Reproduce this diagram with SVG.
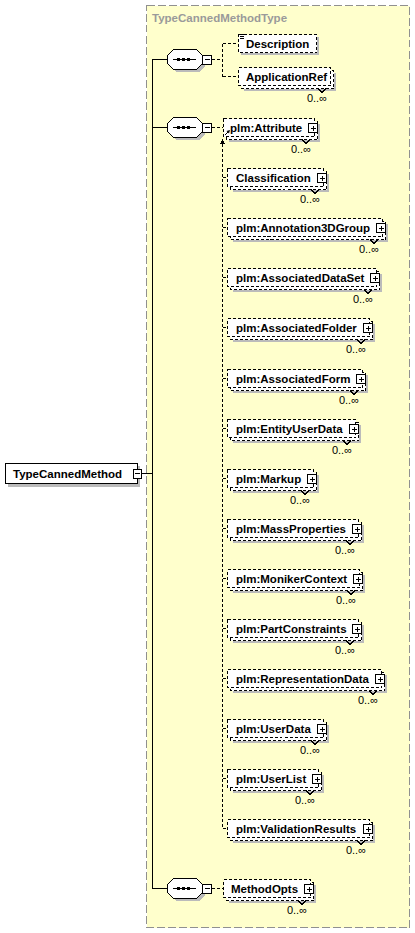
<svg xmlns="http://www.w3.org/2000/svg" width="415" height="933" viewBox="0 0 415 933" shape-rendering="crispEdges">
<style>
.lbl{font-family:"Liberation Sans",Arial,sans-serif;font-size:11.5px;font-weight:bold;fill:#000}
.occ{font-family:"Liberation Sans",Arial,sans-serif;font-size:11px;fill:#000}
.title{font-family:"Liberation Sans",Arial,sans-serif;font-size:11.5px;font-weight:bold;fill:#9a9a9a}
.fr{fill:#fff;stroke:#000;stroke-dasharray:3 2}
.box{fill:#fff;stroke:#000}
.sh{fill:#bbb;stroke:none}
.btn{fill:#fff;stroke:#000}
.sol{fill:none;stroke:#000}
.dsh{fill:none;stroke:#000;stroke-dasharray:3 2}
.bg{fill:#ffffcc;stroke:#909090;stroke-dasharray:8 3}
</style>
<defs>
<g id="oct">
<polygon class="sh" points="9,-7 32,-7 38,-1 38,7 32,13 9,13 3,7 3,-1"/>
<polygon class="box" points="6.5,-9.5 29.5,-9.5 35.5,-3.5 35.5,4.5 29.5,10.5 6.5,10.5 0.5,4.5 0.5,-3.5"/>
<path class="sol" d="M6 0.5 H29"/>
<rect x="10" y="-1" width="3" height="3" fill="#000"/>
<rect x="15" y="-1" width="3" height="3" fill="#000"/>
<rect x="20" y="-1" width="3" height="3" fill="#000"/>
<rect class="btn" x="35.5" y="-4" width="9" height="9"/>
<path class="sol" d="M37.5 0.5 H43"/>
</g>
</defs>

<rect id="container" class="bg" x="146.5" y="5.5" width="263" height="922"/>
<text class="title" x="152" y="22">TypeCannedMethodType</text>

<g id="connectors">
<path class="sol" d="M141 473.5 H152.5 M152.5 59.5 V888.5 M152 59.5 H167 M152 127.5 H167 M152 888.5 H167"/>
<path class="dsh" d="M212 59.5 H222.5 M222.5 43.5 V76.5 M222.5 43.5 H238 M222.5 76.5 H238"/>
<path class="dsh" d="M212 127.5 H223 M222.5 144 V828.5 M222.5 177.5 H227 M222.5 227.5 H227 M222.5 277.5 H227 M222.5 327.5 H227 M222.5 378.5 H227 M222.5 428.5 H227 M222.5 478.5 H227 M222.5 528.5 H227 M222.5 578.5 H227 M222.5 628.5 H227 M222.5 678.5 H227 M222.5 728.5 H227 M222.5 778.5 H227 M222.5 828.5 H227"/>
<polygon points="222.5,139 220,144 225,144" fill="#000"/>
<path class="dsh" d="M212 888.5 H223"/>
</g>

<g id="root">
<rect class="sh" x="8" y="466" width="132" height="21"/>
<rect class="box" x="5.5" y="463.5" width="132" height="20"/>
<text class="lbl" x="13" y="477.5">TypeCannedMethod</text>
<rect class="btn" x="133.5" y="469" width="8" height="9"/>
<path class="sol" d="M135 473.5 H140"/>
</g>

<g id="seq1" transform="translate(167,59)"><use href="#oct"/></g>
<g id="seq2" transform="translate(167,127)"><use href="#oct"/></g>
<g id="seq3" transform="translate(167,888)"><use href="#oct"/></g>

<g id="e-description" transform="translate(238,43)">
<rect class="sh" x="3" y="-6" width="78" height="18"/>
<rect class="fr" x="0.5" y="-8.5" width="78" height="18"/>
<path class="sol" d="M1.5 -8.5 H6 M1.5 -6.5 H6 M1.5 -4.5 H6"/>
<text class="lbl" x="8" y="4.5">Description</text>
</g>

<g id="e-applicationref" transform="translate(238,76)">
<rect class="sh" x="6" y="-3" width="92" height="18"/>
<rect class="fr" x="3.5" y="-5.5" width="92" height="18"/>
<rect class="fr" x="0.5" y="-8.5" width="92" height="18"/>
<text class="lbl" x="8" y="4.5">ApplicationRef</text>
<polyline class="sol" points="80,12.5 84,16.5 88,12.5"/>
<text class="occ" x="89" y="26" text-anchor="end">0..∞</text>
</g>

<g id="e-attribute" transform="translate(223,127)">
<rect class="sh" x="6" y="-3" width="91" height="18"/>
<rect class="fr" x="3.5" y="-5.5" width="91" height="18"/>
<rect class="fr" x="0.5" y="-8.5" width="91" height="18"/>
<path class="sol" d="M2 8 L6 4" shape-rendering="auto"/>
<polygon points="7,3 3.5,4 6,6.5" fill="#000" shape-rendering="auto"/>
<text class="lbl" x="7" y="4.5">plm:Attribute</text>
<rect class="btn" x="85.5" y="-3.5" width="9" height="9"/>
<path class="sol" d="M87.5 1 H93 M90 -1.5 V4"/>
<polyline class="sol" points="79,12.5 83,16.5 87,12.5"/>
<text class="occ" x="88" y="26" text-anchor="end">0..∞</text>
</g>

<g id="e-classification" transform="translate(227,177)">
<rect class="sh" x="6" y="-3" width="96" height="18"/>
<rect class="fr" x="3.5" y="-5.5" width="96" height="18"/>
<rect class="fr" x="0.5" y="-8.5" width="96" height="18"/>
<text class="lbl" x="9" y="4.5">Classification</text>
<rect class="btn" x="90.5" y="-3.5" width="9" height="9"/>
<path class="sol" d="M92.5 1 H98 M95 -1.5 V4"/>
<polyline class="sol" points="84,12.5 88,16.5 92,12.5"/>
<text class="occ" x="93" y="26" text-anchor="end">0..∞</text>
</g>

<g id="e-annotation3dgroup" transform="translate(227,227)">
<rect class="sh" x="6" y="-3" width="155" height="18"/>
<rect class="fr" x="3.5" y="-5.5" width="155" height="18"/>
<rect class="fr" x="0.5" y="-8.5" width="155" height="18"/>
<text class="lbl" x="9" y="4.5">plm:Annotation3DGroup</text>
<rect class="btn" x="149.5" y="-3.5" width="9" height="9"/>
<path class="sol" d="M151.5 1 H157 M154 -1.5 V4"/>
<polyline class="sol" points="143,12.5 147,16.5 151,12.5"/>
<text class="occ" x="152" y="26" text-anchor="end">0..∞</text>
</g>

<g id="e-associateddataset" transform="translate(227,277)">
<rect class="sh" x="6" y="-3" width="149" height="18"/>
<rect class="fr" x="3.5" y="-5.5" width="149" height="18"/>
<rect class="fr" x="0.5" y="-8.5" width="149" height="18"/>
<text class="lbl" x="9" y="4.5">plm:AssociatedDataSet</text>
<rect class="btn" x="143.5" y="-3.5" width="9" height="9"/>
<path class="sol" d="M145.5 1 H151 M148 -1.5 V4"/>
<polyline class="sol" points="137,12.5 141,16.5 145,12.5"/>
<text class="occ" x="146" y="26" text-anchor="end">0..∞</text>
</g>

<g id="e-associatedfolder" transform="translate(227,327)">
<rect class="sh" x="6" y="-3" width="142" height="18"/>
<rect class="fr" x="3.5" y="-5.5" width="142" height="18"/>
<rect class="fr" x="0.5" y="-8.5" width="142" height="18"/>
<text class="lbl" x="9" y="4.5">plm:AssociatedFolder</text>
<rect class="btn" x="136.5" y="-3.5" width="9" height="9"/>
<path class="sol" d="M138.5 1 H144 M141 -1.5 V4"/>
<polyline class="sol" points="130,12.5 134,16.5 138,12.5"/>
<text class="occ" x="139" y="26" text-anchor="end">0..∞</text>
</g>

<g id="e-associatedform" transform="translate(227,378)">
<rect class="sh" x="6" y="-3" width="135" height="18"/>
<rect class="fr" x="3.5" y="-5.5" width="135" height="18"/>
<rect class="fr" x="0.5" y="-8.5" width="135" height="18"/>
<text class="lbl" x="9" y="4.5">plm:AssociatedForm</text>
<rect class="btn" x="129.5" y="-3.5" width="9" height="9"/>
<path class="sol" d="M131.5 1 H137 M134 -1.5 V4"/>
<polyline class="sol" points="123,12.5 127,16.5 131,12.5"/>
<text class="occ" x="132" y="26" text-anchor="end">0..∞</text>
</g>

<g id="e-entityuserdata" transform="translate(227,428)">
<rect class="sh" x="6" y="-3" width="128" height="18"/>
<rect class="fr" x="3.5" y="-5.5" width="128" height="18"/>
<rect class="fr" x="0.5" y="-8.5" width="128" height="18"/>
<text class="lbl" x="9" y="4.5">plm:EntityUserData</text>
<rect class="btn" x="122.5" y="-3.5" width="9" height="9"/>
<path class="sol" d="M124.5 1 H130 M127 -1.5 V4"/>
<polyline class="sol" points="116,12.5 120,16.5 124,12.5"/>
<text class="occ" x="125" y="26" text-anchor="end">0..∞</text>
</g>

<g id="e-markup" transform="translate(227,478)">
<rect class="sh" x="6" y="-3" width="86" height="18"/>
<rect class="fr" x="3.5" y="-5.5" width="86" height="18"/>
<rect class="fr" x="0.5" y="-8.5" width="86" height="18"/>
<text class="lbl" x="9" y="4.5">plm:Markup</text>
<rect class="btn" x="80.5" y="-3.5" width="9" height="9"/>
<path class="sol" d="M82.5 1 H88 M85 -1.5 V4"/>
<polyline class="sol" points="74,12.5 78,16.5 82,12.5"/>
<text class="occ" x="83" y="26" text-anchor="end">0..∞</text>
</g>

<g id="e-massproperties" transform="translate(227,528)">
<rect class="sh" x="6" y="-3" width="131" height="18"/>
<rect class="fr" x="3.5" y="-5.5" width="131" height="18"/>
<rect class="fr" x="0.5" y="-8.5" width="131" height="18"/>
<text class="lbl" x="9" y="4.5">plm:MassProperties</text>
<rect class="btn" x="125.5" y="-3.5" width="9" height="9"/>
<path class="sol" d="M127.5 1 H133 M130 -1.5 V4"/>
<polyline class="sol" points="119,12.5 123,16.5 127,12.5"/>
<text class="occ" x="128" y="26" text-anchor="end">0..∞</text>
</g>

<g id="e-monikercontext" transform="translate(227,578)">
<rect class="sh" x="6" y="-3" width="132" height="18"/>
<rect class="fr" x="3.5" y="-5.5" width="132" height="18"/>
<rect class="fr" x="0.5" y="-8.5" width="132" height="18"/>
<text class="lbl" x="9" y="4.5">plm:MonikerContext</text>
<rect class="btn" x="126.5" y="-3.5" width="9" height="9"/>
<path class="sol" d="M128.5 1 H134 M131 -1.5 V4"/>
<polyline class="sol" points="120,12.5 124,16.5 128,12.5"/>
<text class="occ" x="129" y="26" text-anchor="end">0..∞</text>
</g>

<g id="e-partconstraints" transform="translate(227,628)">
<rect class="sh" x="6" y="-3" width="131" height="18"/>
<rect class="fr" x="3.5" y="-5.5" width="131" height="18"/>
<rect class="fr" x="0.5" y="-8.5" width="131" height="18"/>
<text class="lbl" x="9" y="4.5">plm:PartConstraints</text>
<rect class="btn" x="125.5" y="-3.5" width="9" height="9"/>
<path class="sol" d="M127.5 1 H133 M130 -1.5 V4"/>
<polyline class="sol" points="119,12.5 123,16.5 127,12.5"/>
<text class="occ" x="128" y="26" text-anchor="end">0..∞</text>
</g>

<g id="e-representationdata" transform="translate(227,678)">
<rect class="sh" x="6" y="-3" width="154" height="18"/>
<rect class="fr" x="3.5" y="-5.5" width="154" height="18"/>
<rect class="fr" x="0.5" y="-8.5" width="154" height="18"/>
<text class="lbl" x="9" y="4.5">plm:RepresentationData</text>
<rect class="btn" x="148.5" y="-3.5" width="9" height="9"/>
<path class="sol" d="M150.5 1 H156 M153 -1.5 V4"/>
<polyline class="sol" points="142,12.5 146,16.5 150,12.5"/>
<text class="occ" x="151" y="26" text-anchor="end">0..∞</text>
</g>

<g id="e-userdata" transform="translate(227,728)">
<rect class="sh" x="6" y="-3" width="96" height="18"/>
<rect class="fr" x="3.5" y="-5.5" width="96" height="18"/>
<rect class="fr" x="0.5" y="-8.5" width="96" height="18"/>
<text class="lbl" x="9" y="4.5">plm:UserData</text>
<rect class="btn" x="90.5" y="-3.5" width="9" height="9"/>
<path class="sol" d="M92.5 1 H98 M95 -1.5 V4"/>
<polyline class="sol" points="84,12.5 88,16.5 92,12.5"/>
<text class="occ" x="93" y="26" text-anchor="end">0..∞</text>
</g>

<g id="e-userlist" transform="translate(227,778)">
<rect class="sh" x="6" y="-3" width="91" height="18"/>
<rect class="fr" x="3.5" y="-5.5" width="91" height="18"/>
<rect class="fr" x="0.5" y="-8.5" width="91" height="18"/>
<text class="lbl" x="9" y="4.5">plm:UserList</text>
<rect class="btn" x="85.5" y="-3.5" width="9" height="9"/>
<path class="sol" d="M87.5 1 H93 M90 -1.5 V4"/>
<polyline class="sol" points="79,12.5 83,16.5 87,12.5"/>
<text class="occ" x="88" y="26" text-anchor="end">0..∞</text>
</g>

<g id="e-validationresults" transform="translate(227,828)">
<rect class="sh" x="6" y="-3" width="142" height="18"/>
<rect class="fr" x="3.5" y="-5.5" width="142" height="18"/>
<rect class="fr" x="0.5" y="-8.5" width="142" height="18"/>
<text class="lbl" x="9" y="4.5">plm:ValidationResults</text>
<rect class="btn" x="136.5" y="-3.5" width="9" height="9"/>
<path class="sol" d="M138.5 1 H144 M141 -1.5 V4"/>
<polyline class="sol" points="130,12.5 134,16.5 138,12.5"/>
<text class="occ" x="139" y="26" text-anchor="end">0..∞</text>
</g>

<g id="e-methodopts" transform="translate(223,888)">
<rect class="sh" x="6" y="-3" width="87" height="18"/>
<rect class="fr" x="3.5" y="-5.5" width="87" height="18"/>
<rect class="fr" x="0.5" y="-8.5" width="87" height="18"/>
<text class="lbl" x="8" y="4.5">MethodOpts</text>
<rect class="btn" x="81.5" y="-3.5" width="9" height="9"/>
<path class="sol" d="M83.5 1 H89 M86 -1.5 V4"/>
<polyline class="sol" points="75,12.5 79,16.5 83,12.5"/>
<text class="occ" x="84" y="26" text-anchor="end">0..∞</text>
</g>
</svg>
